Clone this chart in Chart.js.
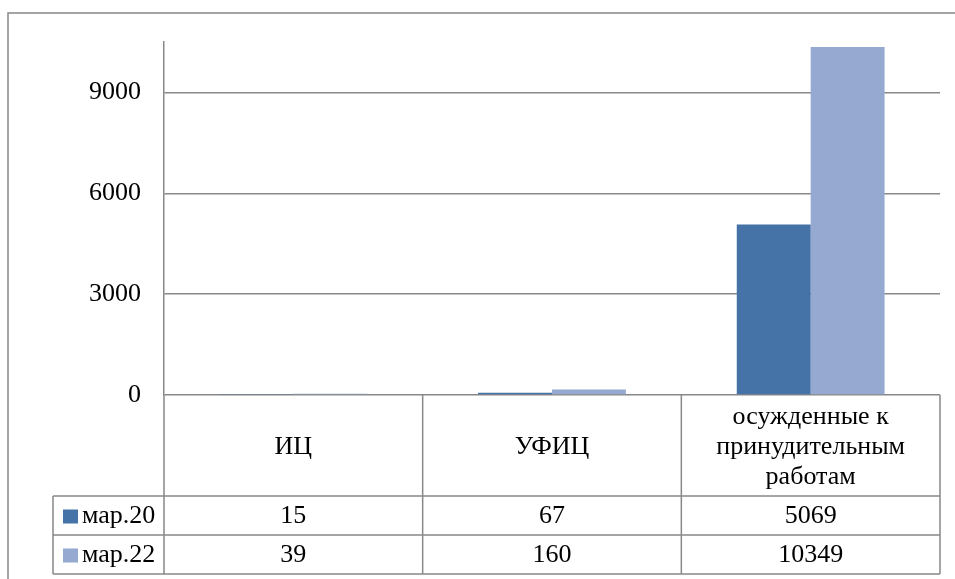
<!DOCTYPE html>
<html>
<head>
<meta charset="utf-8">
<script src="https://cdn.jsdelivr.net/npm/chart.js@4/dist/chart.umd.min.js"></script>
<style>
    body { margin: 0; background: #fff; font-family: "Liberation Serif", "Times New Roman", serif; }
    canvas { display: block; }
    .warm { position: absolute; left: -9999px; font-size: 26px; }
</style>
</head>
<body>
<span class="warm">ИЦ мар 0123456789 осужденные</span>
<canvas id="chart" width="955" height="579"></canvas>
<script>
    // data
    const categories = [['ИЦ'], ['УФИЦ'], ['осужденные к', 'принудительным', 'работам']];
    const seriesNames = ['мар.20', 'мар.22'];
    const mar20 = [15, 67, 5069];
    const mar22 = [39, 160, 10349];
    const yTicks = [0, 3000, 6000, 9000];

    const colors = ['#4572A7', '#95A9D1'];
    const lineGray = '#888888';
    const family = '"Liberation Serif", "Times New Roman", serif';
    const fontStr = '26px ' + family;

    // draws the data table under the plot plus the outer frame
    const dataTable = {
        id: 'dataTable',
        beforeDraw(chart) {
            const c = chart.ctx;
            c.save();
            c.fillStyle = '#fff';
            c.fillRect(0, 0, chart.width, chart.height);
            c.restore();
        },
        afterDraw(chart) {
            const c = chart.ctx;
            const x = chart.scales.x;
            const area = chart.chartArea;
            const colW = (area.right - area.left) / categories.length;
            const top = area.bottom;
            const headBottom = top + 101;
            const rowH = 39;
            const legendLeft = 53;
            const bottom = headBottom + rowH * 2;

            c.save();
            c.strokeStyle = lineGray;
            c.lineWidth = 1.5;
            c.beginPath();
            // vertical lines
            for (let i = 0; i <= categories.length; i++) {
                const lx = area.left + i * colW;
                c.moveTo(lx, top);
                c.lineTo(lx, bottom);
            }
            c.moveTo(legendLeft, headBottom);
            c.lineTo(legendLeft, bottom);
            // horizontal lines
            for (let r = 0; r <= 2; r++) {
                const ly = headBottom + r * rowH;
                c.moveTo(legendLeft, ly);
                c.lineTo(area.right, ly);
            }
            c.stroke();

            c.fillStyle = '#000';
            c.font = fontStr;
            c.textAlign = 'center';
            c.textBaseline = 'middle';

            // header cells
            categories.forEach((lines, i) => {
                const cx = x.getPixelForValue(i);
                const mid = (top + headBottom) / 2 + 2;
                lines.forEach((ln, j) => {
                    c.fillText(ln, cx, mid + (j - (lines.length - 1) / 2) * 30);
                });
            });

            // value rows
            [mar20, mar22].forEach((vals, r) => {
                const cy = headBottom + r * rowH + rowH / 2 + 1;
                vals.forEach((v, i) => {
                    c.fillText(String(v), x.getPixelForValue(i), cy);
                });
                c.fillStyle = colors[r];
                c.fillRect(63, cy - 7, 15, 14);
                c.fillStyle = '#000';
                c.textAlign = 'left';
                c.fillText(seriesNames[r], 82, cy);
                c.textAlign = 'center';
            });

            // outer frame
            c.strokeStyle = lineGray;
            c.lineWidth = 1.5;
            c.strokeRect(8, 13, chart.width + 20, chart.height + 20);
            c.restore();
        }
    };

    function drawChart() {
        new Chart(document.getElementById('chart').getContext('2d'), {
            type: 'bar',
            data: {
                labels: categories,
                datasets: [
                    { label: seriesNames[0], data: mar20, backgroundColor: colors[0] },
                    { label: seriesNames[1], data: mar22, backgroundColor: colors[1] }
                ]
            },
            options: {
                responsive: false,
                animation: false,
                devicePixelRatio: 1,
                color: '#000',
                layout: { padding: { left: 0, right: 15, top: 42, bottom: 184 } },
                datasets: { bar: { categoryPercentage: 2 / 3.5, barPercentage: 1 } },
                plugins: {
                    legend: { display: false },
                    tooltip: { enabled: false }
                },
                scales: {
                    x: { display: false },
                    y: {
                        min: 0,
                        max: 10500,
                        afterFit(scale) { scale.width = 164; },
                        afterBuildTicks(scale) {
                            scale.ticks = yTicks.map(v => ({ value: v }));
                        },
                        grid: { color: lineGray, lineWidth: 1.5, drawTicks: false },
                        border: { display: true, color: lineGray, width: 1.5 },
                        ticks: {
                            padding: 23,
                            color: '#000',
                            font: { family: family, size: 26 },
                            callback: v => String(v)
                        }
                    }
                }
            },
            plugins: [dataTable]
        });
    }

    document.fonts.load(fontStr, 'ИЦмар0123').then(drawChart, drawChart);
</script>
</body>
</html>
